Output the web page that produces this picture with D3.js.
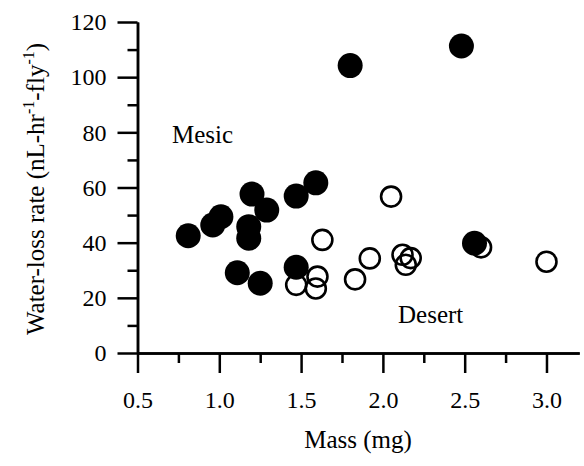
<!DOCTYPE html>
<html>
<head>
<meta charset="utf-8">
<script src="https://cdn.jsdelivr.net/npm/d3@7"></script>
<style>
  html, body { margin: 0; padding: 0; background: #fff; }
  svg { display: block; }
  svg text { font-family: "Liberation Serif", "Times New Roman", serif; }
</style>
</head>
<body>
<div id="chart"></div>
<script>
(function () {
  "use strict";

  // mesic flies (filled), desert flies (open): [mass mg, water-loss rate]
  var mesic = [
    [0.81, 42.5], [0.96, 46.4], [1.01, 49.4], [1.20, 57.6], [1.29, 51.8],
    [1.18, 45.8], [1.18, 41.6], [1.47, 56.9], [1.59, 61.7], [1.11, 29.1],
    [1.25, 25.3], [1.47, 31.1], [1.80, 104.2], [2.48, 111.3], [2.56, 39.8]
  ];
  var desert = [
    [1.63, 41.0], [1.60, 27.7], [1.47, 24.7], [1.59, 23.4], [1.83, 26.7],
    [1.92, 34.3], [2.05, 56.7], [2.12, 35.6], [2.17, 34.4], [2.14, 32.0],
    [2.60, 38.3], [3.00, 33.1]
  ];
  var xTicks = [0.5, 1.0, 1.5, 2.0, 2.5, 3.0];
  var xMinor = [0.75, 1.25, 1.75, 2.25, 2.75];
  var yTicks = [0, 20, 40, 60, 80, 100, 120];
  var yMinor = [10, 30, 50, 70, 90, 110];

  var FONT = "Liberation Serif, Times New Roman, serif";
  var W = 584, H = 466;

  var svg = d3.select("#chart").append("svg")
    .attr("width", W).attr("height", H);

  var x = d3.scaleLinear().domain([0.5, 3.2]).range([137.5, 579.2]);
  var y = d3.scaleLinear().domain([0, 120]).range([353, 22]);

  function styleAxis(g) {
    g.attr("font-family", FONT).attr("font-size", 24);
    g.select(".domain").attr("stroke", "#000").attr("stroke-width", 2.5);
    g.selectAll(".tick line").attr("stroke", "#000").attr("stroke-width", 2.5);
    g.selectAll(".tick text").attr("fill", "#000");
  }

  // minor ticks
  svg.append("g")
    .attr("transform", "translate(0," + y(0) + ")")
    .call(d3.axisBottom(x).tickValues(xMinor).tickSize(10).tickSizeOuter(0).tickFormat(""))
    .call(styleAxis);
  svg.append("g")
    .attr("transform", "translate(" + x(0.5) + ",0)")
    .call(d3.axisLeft(y).tickValues(yMinor).tickSize(10).tickSizeOuter(0).tickFormat(""))
    .call(styleAxis);

  // major ticks
  svg.append("g")
    .attr("transform", "translate(0," + y(0) + ")")
    .call(d3.axisBottom(x).tickValues(xTicks).tickSize(20).tickSizeOuter(0)
      .tickPadding(18).tickFormat(d3.format(".1f")))
    .call(styleAxis);
  svg.append("g")
    .attr("transform", "translate(" + x(0.5) + ",0)")
    .call(d3.axisLeft(y).tickValues(yTicks).tickSize(20).tickSizeOuter(0)
      .tickPadding(11).tickFormat(d3.format("d")))
    .call(styleAxis);

  // points
  svg.append("g").selectAll("circle.desert")
    .data(desert).enter().append("circle")
      .attr("class", "desert")
      .attr("cx", function (d) { return x(d[0]); })
      .attr("cy", function (d) { return y(d[1]); })
      .attr("r", 10)
      .attr("fill", "none")
      .attr("stroke", "#000")
      .attr("stroke-width", 2.6);

  svg.append("g").selectAll("circle.mesic")
    .data(mesic).enter().append("circle")
      .attr("class", "mesic")
      .attr("cx", function (d) { return x(d[0]); })
      .attr("cy", function (d) { return y(d[1]); })
      .attr("r", 12.5)
      .attr("fill", "#000");

  // annotations
  svg.append("text").attr("x", 172).attr("y", 143)
    .attr("font-size", "25px").attr("fill", "#000").text("Mesic");
  svg.append("text").attr("x", 398).attr("y", 323)
    .attr("font-size", "25px").attr("fill", "#000").text("Desert");

  // axis titles
  svg.append("text")
    .attr("x", 358).attr("y", 448)
    .attr("text-anchor", "middle")
    .attr("font-size", "25px").attr("fill", "#000")
    .text("Mass (mg)");

  var yt = svg.append("text")
    .attr("transform", "translate(44,189) rotate(-90)")
    .attr("text-anchor", "middle")
    .attr("font-size", "25px").attr("fill", "#000");
  yt.append("tspan").text("Water-loss rate (nL-hr");
  yt.append("tspan").attr("font-size", "16px").attr("dy", -10).text("-1");
  yt.append("tspan").attr("dy", 10).text("-fly");
  yt.append("tspan").attr("font-size", "16px").attr("dy", -10).text("-1");
  yt.append("tspan").attr("dy", 10).text(")");
}());
</script>
</body>
</html>
